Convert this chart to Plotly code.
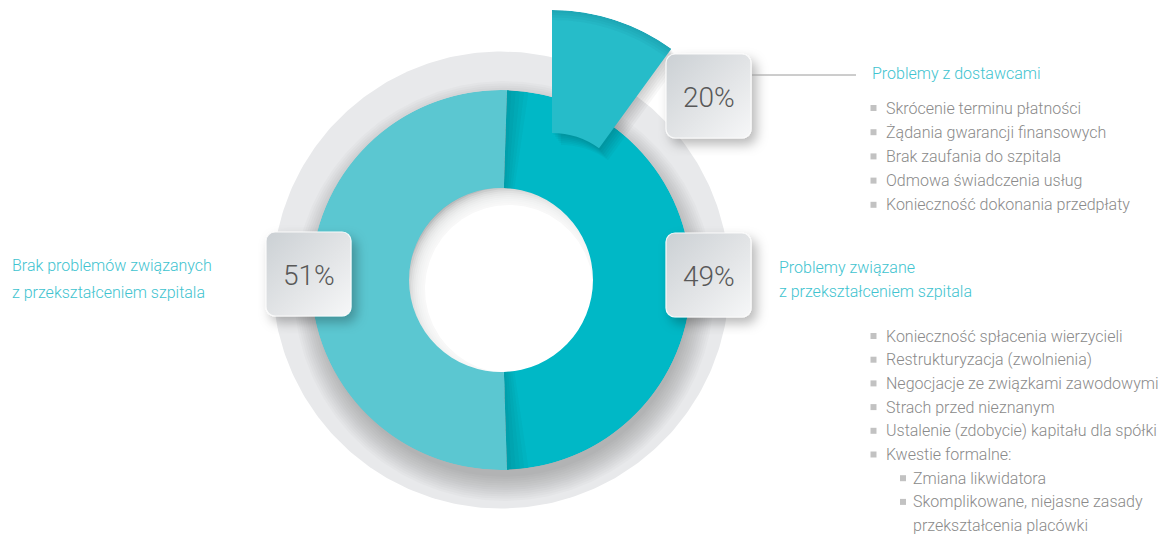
import base64
import numpy as np
import plotly.graph_objects as go

W, H = 1167, 536

# ---- data -------------------------------------------------------------
share_labels = ["Problemy związane z przekształceniem szpitala",
                "Brak problemów związanych z przekształceniem szpitala"]
share_values = [49, 51]
share_colors = ["#00B8C6", "#5BC7D1"]

supplier_value = 20
supplier_title = "Problemy z dostawcami"
supplier_items = [
    "Skrócenie terminu płatności",
    "Żądania gwarancji finansowych",
    "Brak zaufania do szpitala",
    "Odmowa świadczenia usług",
    "Konieczność dokonania przedpłaty",
]

right_title_lines = ["Problemy związane", "z przekształceniem szpitala"]
left_title_lines = ["Brak problemów związanych", "z przekształceniem szpitala"]

transform_items = [
    "Konieczność spłacenia wierzycieli",
    "Restrukturyzacja (zwolnienia)",
    "Negocjacje ze związkami zawodowymi",
    "Strach przed nieznanym",
    "Ustalenie (zdobycie) kapitału dla spółki",
    "Kwestie formalne:",
]
formal_items = [
    ["Zmiana likwidatora"],
    ["Skomplikowane, niejasne zasady", "przekształcenia placówki"],
]

# ---- geometry (pixels) ------------------------------------------------
CX, CY = 501, 280          # donut centre
R_RIM, R_OUT, R_IN = 228.5, 190, 92
WX, WY = 552, 213          # exploded supplier wedge centre
W_OUT, W_IN = 203, 80

FONT = "Roboto"
TEAL_TEXT = "#3EC3CF"
GREY_TEXT = "#8A8A8A"


def disc(cx, cy, r, n=361):
    t = np.linspace(0, 2 * np.pi, n)
    return cx + r * np.cos(t), cy + r * np.sin(t)


def add_disc(fig, cx, cy, r, color):
    x, y = disc(cx, cy, r)
    fig.add_trace(go.Scatter(x=x, y=y, fill="toself", fillcolor=color, mode="lines",
                             line=dict(width=0), hoverinfo="skip"))


def polar_layout(cx, cy, r):
    return dict(
        domain=dict(x=[(cx - r) / W, (cx + r) / W],
                    y=[(H - cy - r) / H, (H - cy + r) / H]),
        bgcolor="rgba(0,0,0,0)",
        radialaxis=dict(visible=False, range=[0, r]),
        angularaxis=dict(visible=False, rotation=90, direction="clockwise"),
    )


fig = go.Figure()

# ---- background ring, its soft drop shadow and the hole --------------
add_disc(fig, CX, CY, R_RIM, "#E8E9EB")
# stacked translucent discs build a soft shadow under the coloured ring
for k in range(12):
    add_disc(fig, CX + 3, CY + 11, 210 - 2.2 * k, "rgba(0,0,0,0.02)")

# hole: grey base, then white discs shifted down-right so the rim stays shaded top-left
add_disc(fig, CX, CY, 100, "#A6A7A9")
for k in range(10):
    add_disc(fig, CX + 8, CY + 9, 104 - 2 * k, "rgba(255,255,255,0.24)")
add_disc(fig, CX + 8, CY + 9, 84, "#FFFFFF")

# ---- bullets ----------------------------------------------------------
bx, by = [], []
for i, _ in enumerate(supplier_items):
    bx.append(873.5); by.append(108 + 24.2 * i)
for i, _ in enumerate(transform_items):
    bx.append(873.5); by.append(336 + 23.7 * i)
row = 336 + 23.7 * len(transform_items)
for item in formal_items:
    bx.append(903); by.append(row)
    row += 23.7 * len(item)
fig.add_trace(go.Scatter(x=bx, y=by, mode="markers", hoverinfo="skip",
                         marker=dict(symbol="square", size=6, color="#C2C2C2",
                                     line=dict(width=0))))

# ---- donut (polar) ----------------------------------------------------
widths = np.array(share_values, dtype=float) / sum(share_values) * 360
start = 90 - widths[0] / 2
centers = start + np.cumsum(widths) - widths / 2
fig.add_trace(go.Barpolar(
    r=[R_OUT - R_IN] * len(share_values), base=[R_IN] * len(share_values),
    theta=centers, width=widths, marker=dict(color=share_colors, line=dict(width=0)),
    hoverinfo="skip", subplot="polar"))

# shading along the split of the darker slice
edge_a, edge_b = start, start + widths[0]
sh_t, sh_w = [], []
for k in range(1, 6):
    w = 1.3 * k
    sh_t += [edge_a + w / 2, edge_b - w / 2]
    sh_w += [w, w]
fig.add_trace(go.Barpolar(
    r=[R_OUT - R_IN] * len(sh_t), base=[R_IN] * len(sh_t), theta=sh_t, width=sh_w,
    marker=dict(color="rgba(0,60,70,0.045)", line=dict(width=0)),
    hoverinfo="skip", subplot="polar"))

# ---- supplier wedge and its soft shadow -------------------------------
sweep = supplier_value / 100 * 180
shadow_steps = [(1.5 * k, 2.0 * k, 0.032) for k in range(1, 7)]
for i, (dx, dy, a) in enumerate(shadow_steps):
    fig.add_trace(go.Barpolar(
        r=[W_OUT - W_IN], base=[W_IN], theta=[sweep / 2], width=[sweep],
        marker=dict(color=f"rgba(0,0,0,{a})", line=dict(width=0)),
        hoverinfo="skip", subplot=f"polar{2 + i}"))
wedge_sub = f"polar{2 + len(shadow_steps)}"
fig.add_trace(go.Barpolar(
    r=[W_OUT - W_IN], base=[W_IN], theta=[sweep / 2], width=[sweep],
    marker=dict(color="#26BCC9", line=dict(width=0)),
    hoverinfo="skip", subplot=wedge_sub))
fig.add_trace(go.Barpolar(
    r=[2.5 * k for k in range(1, 5)], base=[W_OUT - 2.5 * k for k in range(1, 5)],
    theta=[sweep / 2] * 4, width=[sweep] * 4,
    marker=dict(color="rgba(0,80,90,0.045)", line=dict(width=0)),
    hoverinfo="skip", subplot=wedge_sub))

polars = {"polar": polar_layout(CX, CY, R_OUT)}
for i, (dx, dy, a) in enumerate(shadow_steps):
    polars[f"polar{2 + i}"] = polar_layout(WX + dx, WY + dy, W_OUT)
polars[wedge_sub] = polar_layout(WX, WY, W_OUT)

# ---- value boxes ------------------------------------------------------
BW, BH, PAD = 85, 84, 18


def box_uri():
    svg = (
        f"<svg xmlns='http://www.w3.org/2000/svg' width='{BW + 2 * PAD}' height='{BH + 2 * PAD}'>"
        "<defs><linearGradient id='g' x1='0' y1='0' x2='1' y2='1'>"
        "<stop offset='0' stop-color='#CBD0D4'/><stop offset='0.55' stop-color='#E3E5E7'/>"
        "<stop offset='1' stop-color='#F6F7F8'/></linearGradient>"
        "<filter id='s' x='-40%' y='-40%' width='180%' height='180%'>"
        "<feDropShadow dx='5' dy='6' stdDeviation='6' flood-color='#000' flood-opacity='0.28'/>"
        "</filter></defs>"
        f"<rect x='{PAD}' y='{PAD}' width='{BW}' height='{BH}' rx='9' ry='9' fill='url(#g)' "
        "stroke='#FAFAFA' stroke-width='1.2' filter='url(#s)'/></svg>"
    )
    return "data:image/svg+xml;base64," + base64.b64encode(svg.encode()).decode()


boxes = [(666, 54, supplier_value), (266, 232, share_values[1]), (666, 233, share_values[0])]
images, annotations = [], []
uri = box_uri()
for left, top, val in boxes:
    images.append(dict(source=uri, xref="paper", yref="paper",
                       x=(left - PAD) / W, y=1 - (top - PAD) / H,
                       sizex=(BW + 2 * PAD) / W, sizey=(BH + 2 * PAD) / H,
                       xanchor="left", yanchor="top", sizing="stretch", layer="above"))
    annotations.append(dict(x=left + BW / 2, y=top + BH / 2 + 1, xref="x", yref="y",
                            text=f"{val}%", showarrow=False,
                            font=dict(family=FONT, size=28, color="#585858", weight=300)))


def label(x, y, text, color, size=16):
    annotations.append(dict(x=x, y=y, xref="x", yref="y", text=text, showarrow=False,
                            xanchor="left", yanchor="middle",
                            font=dict(family=FONT, size=size, color=color, weight=300)))


label(870, 73, supplier_title, TEAL_TEXT)
for i, t in enumerate(supplier_items):
    label(884, 108 + 24.2 * i, t, GREY_TEXT)

for i, t in enumerate(left_title_lines):
    label(10, 265 + 27 * i, t, TEAL_TEXT)
for i, t in enumerate(right_title_lines):
    label(777, 267 + 24 * i, t, TEAL_TEXT)

for i, t in enumerate(transform_items):
    label(884, 336 + 23.7 * i, t, GREY_TEXT)
row = 336 + 23.7 * len(transform_items)
for item in formal_items:
    for line in item:
        label(911, row, line, GREY_TEXT)
        row += 23.7

fig.update_layout(
    width=W, height=H, autosize=False,
    margin=dict(l=0, r=0, t=0, b=0),
    paper_bgcolor="white", plot_bgcolor="white",
    showlegend=False,
    xaxis=dict(range=[0, W], visible=False, fixedrange=True),
    yaxis=dict(range=[H, 0], visible=False, fixedrange=True),
    images=images, annotations=annotations,
    shapes=[dict(type="line", xref="x", yref="y", x0=752, x1=856, y0=75, y1=75,
                 line=dict(color="#9A9A9A", width=1))],
    **polars,
)

fig.write_html("out.html", config={"displayModeBar": False})
